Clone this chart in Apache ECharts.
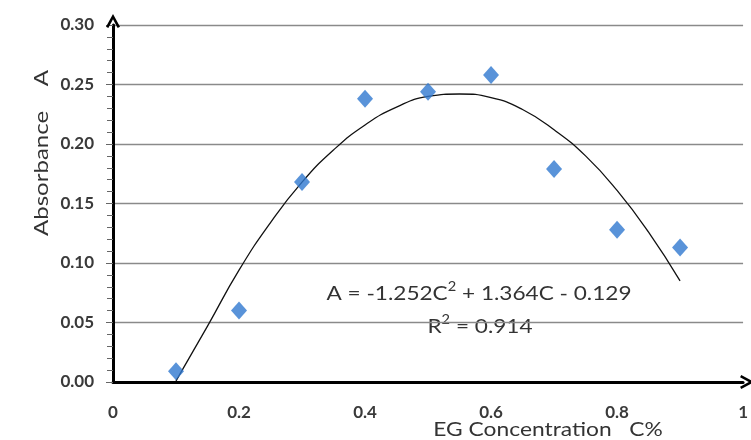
<!DOCTYPE html>
<html><head><meta charset="utf-8">
<script src="https://cdn.jsdelivr.net/npm/echarts@6/dist/echarts.min.js"></script>
<style>html,body{margin:0;padding:0;background:#fff}#c{width:751px;height:440px}</style>
</head><body><div id="c"></div>
<script>
// Measured points
var concentration = [0.1, 0.2, 0.3, 0.4, 0.5, 0.6, 0.7, 0.8, 0.9];
var absorbance = [0.009, 0.060, 0.168, 0.238, 0.244, 0.258, 0.179, 0.128, 0.113];
// Trend curve
var trendC = [0.10, 0.15, 0.20, 0.25, 0.30, 0.35, 0.40, 0.45, 0.50, 0.55, 0.60, 0.65, 0.70, 0.75, 0.80, 0.85, 0.90];
var trendA = [0.001, 0.047, 0.094, 0.134, 0.168, 0.195, 0.216, 0.231, 0.240, 0.242, 0.239, 0.229, 0.212, 0.190, 0.161, 0.126, 0.085];
var xTicks = [0, 0.2, 0.4, 0.6, 0.8, 1];
var yTicks = [0, 0.05, 0.10, 0.15, 0.20, 0.25, 0.30];

var chart = echarts.init(document.getElementById('c'), null, {renderer: 'canvas'});
var chev = 'path://M0,11 L6,0 L12,11 L10,12 L6,4.5 L2,12 Z';
var supStyle = {fontSize: 13, verticalAlign: 'top', lineHeight: 24, fill: '#333', fontFamily: 'Lato'};
var baseStyle = {fontSize: 20, lineHeight: 24, verticalAlign: 'bottom', fill: '#333', fontFamily: 'Lato'};
chart.setOption({
  animation: false,
  backgroundColor: '#fff',
  grid: {left: 113, right: 6, top: 25, bottom: 58, containLabel: false},
  xAxis: {
    type: 'value', min: xTicks[0], max: xTicks[xTicks.length - 1], interval: 0.2,
    axisLine: {show: true, lineStyle: {color: '#000', width: 3}, symbol: ['none', chev], symbolSize: [14, 16], symbolOffset: [0, 4]},
    axisTick: {show: false},
    splitLine: {show: false},
    axisLabel: {color: '#3a3a3a', fontSize: 17, fontWeight: 'bold', fontFamily: 'Lato', margin: 22,
      formatter: function (v) { return String(+v.toFixed(1)); }}
  },
  yAxis: {
    type: 'value', min: yTicks[0], max: yTicks[yTicks.length - 1], interval: 0.05,
    axisLine: {show: true, lineStyle: {color: '#000', width: 3}, symbol: ['none', chev], symbolSize: [14, 16], symbolOffset: [0, 4]},
    axisTick: {show: true, inside: false, length: 7, lineStyle: {color: '#666', width: 1}},
    minorTick: {show: true, splitNumber: 5, length: 6, lineStyle: {color: '#666', width: 1}},
    splitLine: {show: true, lineStyle: {color: '#8a8a8a', width: 1.3}},
    axisLabel: {color: '#3a3a3a', fontSize: 17, fontWeight: 'bold', fontFamily: 'Lato', margin: 19,
      formatter: function (v) { return v.toFixed(2); }}
  },
  series: [
    {
      type: 'line', data: trendC.map(function (c, i) { return [c, trendA[i]]; }),
      smooth: true, symbol: 'none', lineStyle: {color: '#111', width: 1.3}, z: 2
    },
    {
      type: 'scatter', data: concentration.map(function (c, i) { return [c, absorbance[i]]; }),
      symbol: 'diamond', symbolSize: [16, 18], itemStyle: {color: '#2f78d0'}, z: 3
    }
  ],
  graphic: [
    {type: 'text', x: 479, y: 292, scaleX: 1.13, style: {
      x: 0, y: 0, text: '{b|A = -1.252C}{s|2}{b| + 1.364C - 0.129}', align: 'center', verticalAlign: 'middle',
      fill: '#333', font: '20px Lato', rich: {b: baseStyle, s: supStyle}
    }},
    {type: 'text', x: 480, y: 325, scaleX: 1.13, style: {
      x: 0, y: 0, text: '{b|R}{s|2}{b| = 0.914}', align: 'center', verticalAlign: 'middle',
      fill: '#333', font: '20px Lato', rich: {b: baseStyle, s: supStyle}
    }},
    {type: 'text', x: 548, y: 430, scaleX: 1.14, style: {
      x: 0, y: 0, text: 'EG Concentration   C%', align: 'center', verticalAlign: 'middle',
      fill: '#333', font: '20px Lato'
    }},
    {type: 'text', x: 42, y: 153, rotation: Math.PI / 2, scaleX: 1.2, style: {
      x: 0, y: 0, text: 'Absorbance    A', align: 'center', verticalAlign: 'middle',
      fill: '#333', font: '20px Lato'
    }}
  ]
});
</script></body></html>
